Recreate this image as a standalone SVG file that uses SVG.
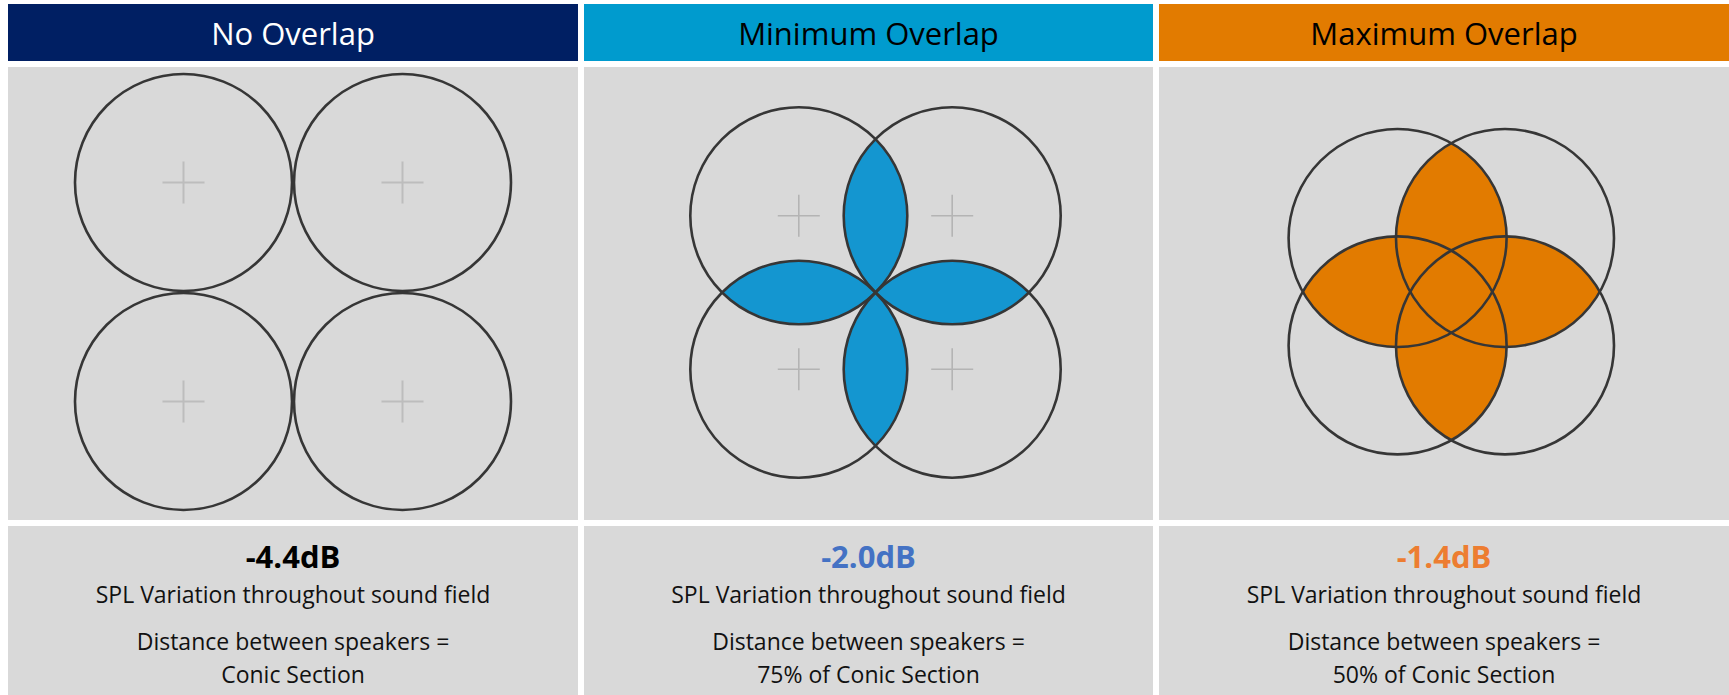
<svg xmlns="http://www.w3.org/2000/svg" xmlns:xlink="http://www.w3.org/1999/xlink" width="1729" height="695" viewBox="0 0 1729 695">
  <style>
    .hdr { font-family: "Open Sans", "DejaVu Sans", sans-serif; font-size: 31px; text-anchor: middle; }
    .body { fill: #D9D9D9; }
    .ring { fill: none; stroke: #363636; stroke-width: 2.6; }
    .cross { fill: none; stroke: #BDBDBD; stroke-width: 2; }
    .db { font-family: "Open Sans", "DejaVu Sans", sans-serif; font-size: 31px; font-weight: bold; text-anchor: middle; }
    .note { font-family: "Open Sans", "DejaVu Sans", sans-serif; font-size: 23px; fill: #111111; text-anchor: middle; }
  </style>
  <defs>
    <path id="cross" d="M-21 0H21M0-21V21"/>
    <!-- clip regions for the overlap lenses, minimum overlap layout -->
    <clipPath id="m-tl"><circle cx="798.8" cy="215.8" r="108.5"/></clipPath>
    <clipPath id="m-tr"><circle cx="952.2" cy="215.8" r="108.5"/></clipPath>
    <clipPath id="m-bl"><circle cx="798.8" cy="369.2" r="108.5"/></clipPath>
    <!-- clip regions for the overlap lenses, maximum overlap layout -->
    <clipPath id="x-tl"><circle cx="1397.6" cy="238" r="109"/></clipPath>
    <clipPath id="x-tr"><circle cx="1505" cy="238" r="109"/></clipPath>
    <clipPath id="x-bl"><circle cx="1397.6" cy="345.4" r="109"/></clipPath>
  </defs>

  <rect width="1729" height="695" fill="#FFFFFF"/>

  <!-- Column 1: no overlap -->
  <g id="panel-no-overlap">
    <rect x="8" y="4" width="570" height="57" fill="#001F63"/>
    <text class="hdr" x="293" y="45" fill="#FFFFFF">No Overlap</text>
    <rect class="body" x="8" y="67" width="570" height="453"/>
    <g class="cross">
      <use href="#cross" x="183.5" y="182.5"/>
      <use href="#cross" x="402.5" y="182.5"/>
      <use href="#cross" x="183.5" y="401.5"/>
      <use href="#cross" x="402.5" y="401.5"/>
    </g>
    <circle class="ring" cx="183.5" cy="182.5" r="108.5"/>
    <circle class="ring" cx="402.5" cy="182.5" r="108.5"/>
    <circle class="ring" cx="183.5" cy="401.5" r="108.5"/>
    <circle class="ring" cx="402.5" cy="401.5" r="108.5"/>
    <rect class="body" x="8" y="526" width="570" height="169"/>
    <text class="db" x="293" y="568" fill="#000000">-4.4dB</text>
    <text class="note" x="293" y="603">SPL Variation throughout sound field</text>
    <text class="note" x="293" y="650">Distance between speakers =</text>
    <text class="note" x="293" y="683">Conic Section</text>
  </g>

  <!-- Column 2: minimum overlap -->
  <g id="panel-minimum-overlap">
    <rect x="584" y="4" width="569" height="57" fill="#009BCE"/>
    <text class="hdr" x="868.5" y="45" fill="#000000">Minimum Overlap</text>
    <rect class="body" x="584" y="67" width="569" height="453"/>
    <g class="cross" style="stroke:#B4B4B4;stroke-width:1.6">
      <use href="#cross" x="798.8" y="215.8"/>
      <use href="#cross" x="952.2" y="215.8"/>
      <use href="#cross" x="798.8" y="369.2"/>
      <use href="#cross" x="952.2" y="369.2"/>
    </g>
    <g fill="#1496D0">
      <circle cx="952.2" cy="215.8" r="108.5" clip-path="url(#m-tl)"/>
      <circle cx="798.8" cy="369.2" r="108.5" clip-path="url(#m-tl)"/>
      <circle cx="952.2" cy="369.2" r="108.5" clip-path="url(#m-tr)"/>
      <circle cx="952.2" cy="369.2" r="108.5" clip-path="url(#m-bl)"/>
    </g>
    <circle class="ring" cx="798.8" cy="215.8" r="108.5"/>
    <circle class="ring" cx="952.2" cy="215.8" r="108.5"/>
    <circle class="ring" cx="798.8" cy="369.2" r="108.5"/>
    <circle class="ring" cx="952.2" cy="369.2" r="108.5"/>
    <rect class="body" x="584" y="526" width="569" height="169"/>
    <text class="db" x="868.5" y="568" fill="#4472C4">-2.0dB</text>
    <text class="note" x="868.5" y="603">SPL Variation throughout sound field</text>
    <text class="note" x="868.5" y="650">Distance between speakers =</text>
    <text class="note" x="868.5" y="683">75% of Conic Section</text>
  </g>

  <!-- Column 3: maximum overlap -->
  <g id="panel-maximum-overlap">
    <rect x="1159" y="4" width="570" height="57" fill="#E27B00"/>
    <text class="hdr" x="1444" y="45" fill="#000000">Maximum Overlap</text>
    <rect class="body" x="1159" y="67" width="570" height="453"/>
    <g class="cross">
      <use href="#cross" x="1397.6" y="238"/>
      <use href="#cross" x="1505" y="238"/>
      <use href="#cross" x="1397.6" y="345.4"/>
      <use href="#cross" x="1505" y="345.4"/>
    </g>
    <!-- every area covered by two or more circles is filled -->
    <g fill="#E27B00">
      <circle cx="1505" cy="238" r="109" clip-path="url(#x-tl)"/>
      <circle cx="1397.6" cy="345.4" r="109" clip-path="url(#x-tl)"/>
      <circle cx="1505" cy="345.4" r="109" clip-path="url(#x-tl)"/>
      <circle cx="1505" cy="345.4" r="109" clip-path="url(#x-tr)"/>
      <circle cx="1397.6" cy="345.4" r="109" clip-path="url(#x-tr)"/>
      <circle cx="1505" cy="345.4" r="109" clip-path="url(#x-bl)"/>
    </g>
    <circle class="ring" cx="1397.6" cy="238" r="109"/>
    <circle class="ring" cx="1505" cy="238" r="109"/>
    <circle class="ring" cx="1397.6" cy="345.4" r="109"/>
    <circle class="ring" cx="1505" cy="345.4" r="109"/>
    <rect class="body" x="1159" y="526" width="570" height="169"/>
    <text class="db" x="1444" y="568" fill="#ED7D31">-1.4dB</text>
    <text class="note" x="1444" y="603">SPL Variation throughout sound field</text>
    <text class="note" x="1444" y="650">Distance between speakers =</text>
    <text class="note" x="1444" y="683">50% of Conic Section</text>
  </g>
</svg>
